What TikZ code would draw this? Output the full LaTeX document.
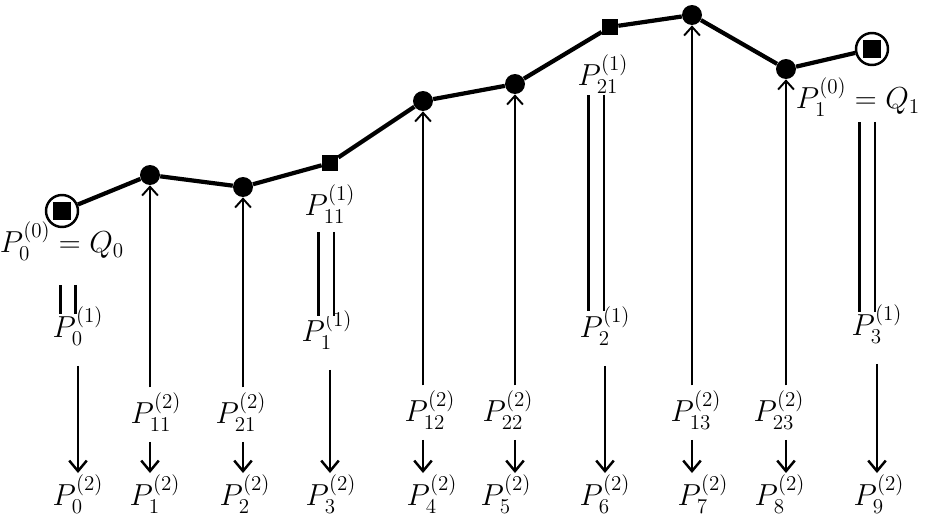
\documentclass[tikz,border=0pt]{standalone}
\usepackage{amsmath}
\usetikzlibrary{arrows.meta,positioning,calc}
\tikzset{
  curve/.style={line width=2.4pt},
  dot/.style={circle,fill,inner sep=0pt,minimum size=0.4cm},
  sqpt/.style={rectangle,fill,inner sep=0pt,minimum size=0.32cm},
  endpt/.style={circle,draw,line width=1.4pt,inner sep=0pt,minimum size=0.64cm},
  lab/.style={inner sep=0.5pt,font=\fontsize{17}{19}\selectfont},
  uparr/.style={-{Straight Barb[length=5pt,width=9pt]},line width=1.1pt},
  downarr/.style={-{Straight Barb[length=6pt,width=10pt]},line width=1.4pt},
  eqline/.style={double,double distance=0.26cm,line width=1.2pt},
}

\begin{document}
\begin{tikzpicture}[x=0.02cm,y=-0.02cm]
  \useasboundingbox (0,0) rectangle (948,517);
  % control polygon
  \node[endpt] (q0) at (62,211) {};
  \node[sqpt,minimum size=0.36cm] (q0sq) at (q0) {};
  \node[dot] (a1) at (150,175) {};
  \node[dot] (a2) at (243,187) {};
  \node[sqpt] (b1) at (330,163) {};
  \node[dot] (a3) at (423,101) {};
  \node[dot] (a4) at (515,84) {};
  \node[sqpt] (b2) at (610,27) {};
  \node[dot] (a5) at (692,15) {};
  \node[dot] (a6) at (786,69) {};
  \node[endpt] (q1) at (872,49) {};
  \node[sqpt,minimum size=0.36cm] (q1sq) at (q1) {};
  \draw[curve] (q0) -- (a1) -- (a2) -- (b1) -- (a3) -- (a4) -- (b2) -- (a5) -- (a6) -- (q1);

  % first level
  \node[lab] (q0lab) at (62,241) {$P_0^{(0)}=Q_0$};
  \node[lab] (q1lab) at (858,97) {$P_1^{(0)}=Q_1$};
  \node[lab] (p11one) at (330,204) {$P_{11}^{(1)}$};
  \node[lab] (p21one) at (603,74) {$P_{21}^{(1)}$};
  \node[lab] (p0one) at (78,326) {$P_0^{(1)}$};
  \node[lab] (p1one) at (327,330) {$P_1^{(1)}$};
  \node[lab] (p2one) at (605,326) {$P_2^{(1)}$};
  \node[lab] (p3one) at (877,324) {$P_3^{(1)}$};

  % second level
  \node[lab] (p11two) at (156,412) {$P_{11}^{(2)}$};
  \node[lab] (p21two) at (241,412) {$P_{21}^{(2)}$};
  \node[lab] (p12two) at (430,410) {$P_{12}^{(2)}$};
  \node[lab] (p22two) at (508,410) {$P_{22}^{(2)}$};
  \node[lab] (p13two) at (696,410) {$P_{13}^{(2)}$};
  \node[lab] (p23two) at (779,410) {$P_{23}^{(2)}$};

  % result points
  \node[lab] (p0two) at (78,494) {$P_0^{(2)}$};
  \node[lab] (p1two) at (155,494) {$P_1^{(2)}$};
  \node[lab] (p2two) at (245,494) {$P_2^{(2)}$};
  \node[lab] (p3two) at (331,494) {$P_3^{(2)}$};
  \node[lab] (p4two) at (432,494) {$P_4^{(2)}$};
  \node[lab] (p5two) at (506,494) {$P_5^{(2)}$};
  \node[lab] (p6two) at (605,494) {$P_6^{(2)}$};
  \node[lab] (p7two) at (703,494) {$P_7^{(2)}$};
  \node[lab] (p8two) at (780,494) {$P_8^{(2)}$};
  \node[lab] (p9two) at (879,494) {$P_9^{(2)}$};

  % equal signs
  \coordinate (e0t) at (68,285);  \coordinate (e0b) at (68,314);
  \coordinate (e1t) at (326,232); \coordinate (e1b) at (326,316);
  \coordinate (e2t) at (596,95);  \coordinate (e2b) at (596,311);
  \coordinate (e3t) at (867,122); \coordinate (e3b) at (867,312);
  \draw[eqline] (e0t) -- (e0b);
  \draw[eqline] (e1t) -- (e1b);
  \draw[eqline] (e2t) -- (e2b);
  \draw[eqline] (e3t) -- (e3b);

  % subdivision arrows
  \foreach \pt/\mid/\res in {a1/p11two/p1two, a2/p21two/p2two, a3/p12two/p4two,
                             a4/p22two/p5two, a5/p13two/p7two, a6/p23two/p8two}{
    \draw[uparr,shorten <=2pt] (\mid.north -| \pt) -- (\pt);
    \draw[downarr,shorten <=5pt] (\mid.south -| \pt) -- (\res.north -| \pt);
  }
  \draw[downarr,shorten <=0.38cm] (p0one.south) -- (p0one.south |- p0two.north);
  \draw[downarr,shorten <=0.38cm] (p1one.south -| b1) -- (p3two.north -| b1);
  \draw[downarr,shorten <=0.38cm] (p2one.south) -- (p2one.south |- p6two.north);
  \draw[downarr,shorten <=0.38cm] (p3one.south) -- (p3one.south |- p9two.north);
\end{tikzpicture}
\end{document}
